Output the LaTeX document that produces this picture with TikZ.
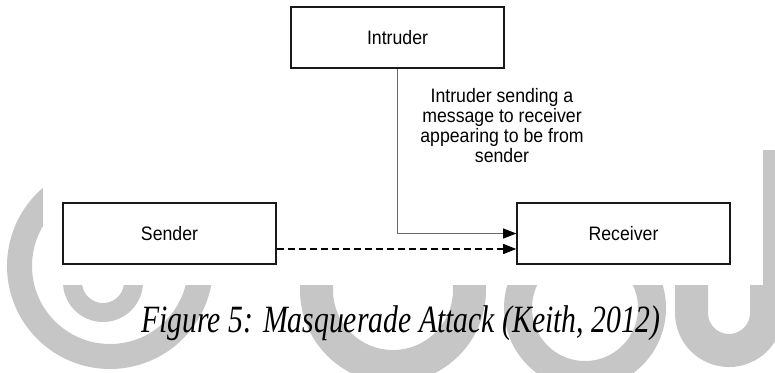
\documentclass[tikz,border=0pt]{standalone}
\usepackage{fontspec}
\usepackage{graphicx}
\setmainfont{Liberation Sans}
\newfontfamily\capfont{Liberation Serif}
\usetikzlibrary{arrows.meta}
\definecolor{wm}{RGB}{198,198,198}
\definecolor{conngray}{RGB}{105,105,105}
\tikzset{
  box/.style={draw=black!90, line width=1.6pt, minimum width=213pt, minimum height=61pt, inner sep=0pt, fill=white},
  boxtext/.style={font=\fontsize{17.7}{17.7}\selectfont},
  wmstroke/.style={draw=wm},
  tip/.style={-{Triangle[length=13pt,width=10pt,color=black]}},
  solidconn/.style={draw=conngray, line width=1.1pt, tip},
  dashconn/.style={draw=black, line width=1.3pt, dash pattern=on 7pt off 4pt, tip},
  lbl/.style={font=\fontsize{17.7}{17.7}\selectfont, inner sep=0pt, align=center},
  captext/.style={font=\capfont\itshape\fontsize{29.7}{30}\selectfont, inner sep=0pt}
}
\begin{document}
\begin{tikzpicture}[x=1pt,y=-1pt]
\useasboundingbox (0,0) rectangle (775,372);
\begin{scope}
  \clip (0,0) rectangle (775,372);
  \draw[wmstroke, line width=25pt] (110,266) circle (90.5pt);
  \draw[wmstroke, line width=19pt] (103,282) circle (30.5pt);
  \draw[wmstroke, line width=33pt] (393,290) circle (76.5pt);
  \draw[wmstroke, line width=28pt] (585,308) circle (67pt);
  \draw[wmstroke, line width=33pt] (766.5,150) -- (766.5,313) arc[start angle=0, end angle=-180, radius=37.5pt] -- (691.5,280);
  \fill[white] (43,0) rectangle (763,285);
\end{scope}

\node[box, boxtext] (intruder) at (397.5,37.5) {\scalebox{1}[1.1]{Intruder}};
\node[box, boxtext] (sender) at (169.5,233.5) {\scalebox{1}[1.1]{Sender}};
\node[box, boxtext] (receiver) at (623.5,233.5) {\scalebox{1}[1.1]{Receiver}};

\node[lbl] (msg) at (502,128.5) {\scalebox{1}[1.1]{\begin{tabular}{@{}c@{}}Intruder sending a\\message to receiver\\appearing to be from\\sender\end{tabular}}};

\coordinate (dstart) at ([yshift=-15.5pt]sender.east);
\coordinate (dend) at ([yshift=-15.5pt]receiver.west);
\draw[solidconn] (intruder.south) |- (receiver.west);
\draw[dashconn] (dstart) -- (dend);

\node[captext, anchor=base] (cap) at (401,332) {\scalebox{1}[1.3]{Figure 5: Masquerade Attack (Keith, 2012)}};
\end{tikzpicture}
\end{document}
